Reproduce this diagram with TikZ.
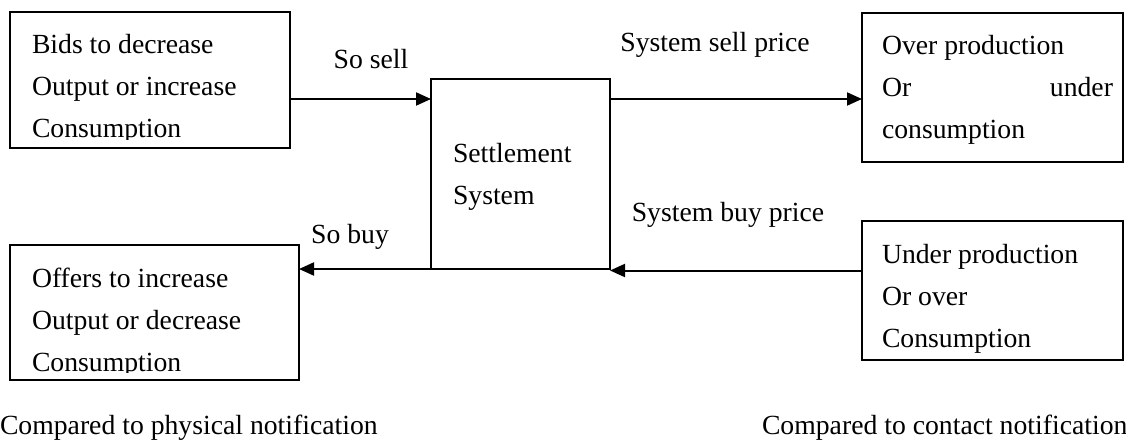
\documentclass[tikz,border=0pt]{standalone}
\usepackage{fontspec}
\setmainfont{Liberation Serif}
\usetikzlibrary{arrows.meta}
\begin{document}
\begin{tikzpicture}[x=1pt,y=-1pt,
  every node/.style={font=\fontsize{27.7}{42}\selectfont, inner sep=0pt, outer sep=0pt},
  box/.style={draw, line width=2pt, rectangle, anchor=north west},
  txt/.style={anchor=base west},
  lbl/.style={anchor=base},
  arr/.style={line width=2pt, -{Triangle[length=15pt,width=13pt]}}]
\useasboundingbox (0,0) rectangle (1126,441);

% box outlines
\node[box, minimum width=280pt, minimum height=136pt] (bids) at (10,12) {};
\node[box, minimum width=289pt, minimum height=135pt] (offers) at (10,245) {};
\node[box, minimum width=179pt, minimum height=190pt] (settle) at (431,79) {};
\node[box, minimum width=261pt, minimum height=149pt] (overp) at (862,13) {};
\node[box, minimum width=261pt, minimum height=139pt] (underp) at (862,221) {};

% box texts (the lower line of the left boxes is cut by the text frame)
\begin{scope}
  \clip (10,12) rectangle (290,139);
  \node[txt] (bids1) at (32,54) {Bids to decrease};
  \node[txt] (bids2) at (32,96) {Output or increase};
  \node[txt] (bids3) at (32,138) {Consumption};
\end{scope}
\begin{scope}
  \clip (10,245) rectangle (299,372);
  \node[txt] (off1) at (32,287) {Offers to increase};
  \node[txt] (off2) at (32,329) {Output or decrease};
  \node[txt] (off3) at (32,371) {Consumption};
\end{scope}
\node[txt] (set1) at (453,162) {Settlement};
\node[txt] (set2) at (453,204) {System};
\node[txt] (over1) at (882,55) {Over production};
\node[txt] (over2) at (882,97) {Or};
\node[anchor=base east] (over3) at (1113,97) {under};
\node[txt] (over4) at (882,139) {consumption};
\node[txt] (und1) at (882,263) {Under production};
\node[txt] (und2) at (882,305) {Or over};
\node[txt] (und3) at (882,347) {Consumption};

% connectors
\draw[arr] ([yshift=-19pt]bids.east) coordinate (s1) -- (s1 -| settle.west);
\draw[arr] ([yshift=-20pt]settle.north east) coordinate (s2) -- (s2 -| overp.west);
\draw[arr] ([yshift=20pt]underp.west) coordinate (b1) -- (b1 -| settle.east);
\draw[arr] (settle.south west) -- (settle.south west -| offers.east);

% connector labels
\node[lbl] (sosell) at (371,69) {So sell};
\node[lbl] (sellp) at (715,52) {System sell price};
\node[lbl] (sobuy) at (350,243) {So buy};
\node[lbl] (buyp) at (728,221) {System buy price};

% captions
\node[txt] (cap1) at (0,434) {Compared to physical notification};
\node[txt] (cap2) at (762,434) {Compared to contact notification};
\end{tikzpicture}
\end{document}
